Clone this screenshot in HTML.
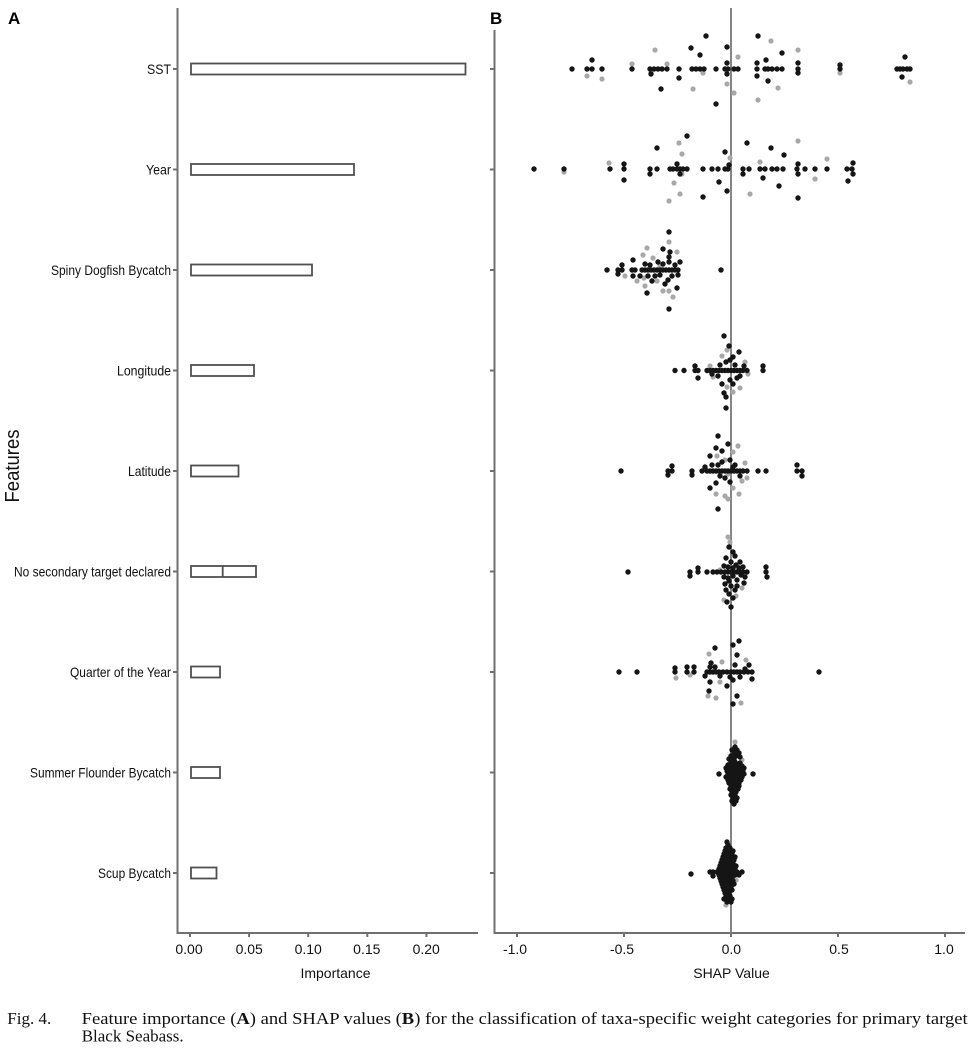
<!DOCTYPE html>
<html><head><meta charset="utf-8"><style>
html,body{margin:0;padding:0;background:#fff;}
svg{display:block;}
text{font-family:"Liberation Sans",Arial,sans-serif;}
.cap{font-family:"Liberation Serif","Times New Roman",serif;font-size:17px;fill:#111;}
.k circle{fill:#151515;}
.g circle{fill:#a8a8a8;}
</style></head><body>
<svg width="975" height="1058" viewBox="0 0 975 1058" xmlns="http://www.w3.org/2000/svg">
<rect width="975" height="1058" fill="#fff"/>
<!-- Panel labels -->
<text x="8" y="24" font-size="17" font-weight="bold" fill="#000">A</text>
<text x="490" y="24" font-size="17" font-weight="bold" fill="#000">B</text>

<!-- Panel A axes -->
<g stroke="#707070" stroke-width="2" fill="none">
<line x1="177.5" y1="8" x2="177.5" y2="934"/>
<line x1="176.5" y1="933" x2="478" y2="933"/>
<line x1="173" y1="69" x2="177" y2="69"/>
<line x1="173" y1="169.5" x2="177" y2="169.5"/>
<line x1="173" y1="270" x2="177" y2="270"/>
<line x1="173" y1="370.5" x2="177" y2="370.5"/>
<line x1="173" y1="471" x2="177" y2="471"/>
<line x1="173" y1="571.5" x2="177" y2="571.5"/>
<line x1="173" y1="672" x2="177" y2="672"/>
<line x1="173" y1="772.5" x2="177" y2="772.5"/>
<line x1="173" y1="873" x2="177" y2="873"/>
<line x1="190" y1="933" x2="190" y2="937"/>
<line x1="249.1" y1="933" x2="249.1" y2="937"/>
<line x1="308.2" y1="933" x2="308.2" y2="937"/>
<line x1="367.3" y1="933" x2="367.3" y2="937"/>
<line x1="426.4" y1="933" x2="426.4" y2="937"/>
</g>
<!-- Bars -->
<g stroke="#505050" stroke-width="1.8" fill="#fff">
<rect x="191" y="63.5" width="274.5" height="11"/>
<rect x="191" y="164" width="163" height="11"/>
<rect x="191" y="264.5" width="121" height="11"/>
<rect x="191" y="365" width="63" height="11"/>
<rect x="191" y="465.5" width="47.5" height="11"/>
<rect x="191" y="566" width="65" height="11"/>
<line x1="222.7" y1="566" x2="222.7" y2="577"/>
<rect x="191" y="666.5" width="29" height="11"/>
<rect x="191" y="767" width="29" height="11"/>
<rect x="191" y="867.5" width="25.5" height="11"/>
</g>
<!-- Y labels -->
<g font-size="14" fill="#111" text-anchor="end">
<text x="171" y="74" textLength="24" lengthAdjust="spacingAndGlyphs">SST</text>
<text x="171" y="174.5" textLength="25" lengthAdjust="spacingAndGlyphs">Year</text>
<text x="171" y="275" textLength="120" lengthAdjust="spacingAndGlyphs">Spiny Dogfish Bycatch</text>
<text x="171" y="375.5" textLength="54" lengthAdjust="spacingAndGlyphs">Longitude</text>
<text x="171" y="476" textLength="43" lengthAdjust="spacingAndGlyphs">Latitude</text>
<text x="171" y="576.5" textLength="157" lengthAdjust="spacingAndGlyphs">No secondary target declared</text>
<text x="171" y="677" textLength="101" lengthAdjust="spacingAndGlyphs">Quarter of the Year</text>
<text x="171" y="777.5" textLength="141" lengthAdjust="spacingAndGlyphs">Summer Flounder Bycatch</text>
<text x="171" y="878" textLength="73" lengthAdjust="spacingAndGlyphs">Scup Bycatch</text>
</g>
<text transform="translate(19,466) rotate(-90)" font-size="20" fill="#111" text-anchor="middle" textLength="73" lengthAdjust="spacingAndGlyphs">Features</text>
<!-- A x tick labels -->
<g font-size="14" fill="#111" text-anchor="middle">
<text x="189" y="954">0.00</text>
<text x="249.2" y="954">0.05</text>
<text x="308.2" y="954">0.10</text>
<text x="366.8" y="954">0.15</text>
<text x="426.2" y="954">0.20</text>
<text x="335.5" y="978">Importance</text>
</g>

<!-- Panel B axes -->
<g stroke="#707070" stroke-width="2" fill="none">
<line x1="494.5" y1="30" x2="494.5" y2="934"/>
<line x1="493.5" y1="933" x2="965" y2="933"/>
<line x1="490" y1="69" x2="494" y2="69"/>
<line x1="490" y1="169.5" x2="494" y2="169.5"/>
<line x1="490" y1="270" x2="494" y2="270"/>
<line x1="490" y1="370.5" x2="494" y2="370.5"/>
<line x1="490" y1="471" x2="494" y2="471"/>
<line x1="490" y1="571.5" x2="494" y2="571.5"/>
<line x1="490" y1="672" x2="494" y2="672"/>
<line x1="490" y1="772.5" x2="494" y2="772.5"/>
<line x1="490" y1="873" x2="494" y2="873"/>
<line x1="517" y1="933" x2="517" y2="937"/>
<line x1="624" y1="933" x2="624" y2="937"/>
<line x1="731" y1="933" x2="731" y2="937"/>
<line x1="838" y1="933" x2="838" y2="937"/>
<line x1="945" y1="933" x2="945" y2="937"/>
</g>
<line x1="731" y1="8" x2="731" y2="933" stroke="#858585" stroke-width="2"/>
<g font-size="14" fill="#111" text-anchor="middle">
<text x="515" y="954">-1.0</text>
<text x="622" y="954">-0.5</text>
<text x="731.3" y="954">0.0</text>
<text x="839" y="954">0.5</text>
<text x="944" y="954">1.0</text>
<text x="731.5" y="978">SHAP Value</text>
</g>

<!-- Gray dots -->
<g class="g">
<!-- SST -->
<circle cx="587" cy="76" r="2.6"/><circle cx="602" cy="79" r="2.6"/><circle cx="632" cy="64" r="2.6"/><circle cx="655" cy="50" r="2.6"/><circle cx="667" cy="64" r="2.6"/><circle cx="693" cy="89" r="2.6"/><circle cx="738" cy="57" r="2.6"/><circle cx="727" cy="84" r="2.6"/><circle cx="734" cy="93" r="2.6"/><circle cx="771" cy="41" r="2.6"/><circle cx="778" cy="88" r="2.6"/><circle cx="758" cy="100" r="2.6"/><circle cx="798" cy="50" r="2.6"/><circle cx="840" cy="73" r="2.6"/><circle cx="910" cy="82" r="2.6"/><circle cx="651" cy="73" r="2.6"/><circle cx="703" cy="73" r="2.6"/>
<!-- Year -->
<circle cx="609" cy="163" r="2.6"/><circle cx="679" cy="143" r="2.6"/><circle cx="682" cy="154" r="2.6"/><circle cx="674" cy="183" r="2.6"/><circle cx="680" cy="194" r="2.6"/><circle cx="669" cy="201" r="2.6"/><circle cx="730" cy="158" r="2.6"/><circle cx="760" cy="162" r="2.6"/><circle cx="750" cy="194" r="2.6"/><circle cx="798" cy="141" r="2.6"/><circle cx="815" cy="179" r="2.6"/><circle cx="827" cy="159" r="2.6"/><circle cx="564" cy="172" r="2.6"/><circle cx="682" cy="174" r="2.6"/>
<!-- Spiny -->
<circle cx="669" cy="242" r="2.6"/><circle cx="647" cy="248" r="2.6"/><circle cx="643" cy="255" r="2.6"/><circle cx="677" cy="252" r="2.6"/><circle cx="637" cy="281" r="2.6"/><circle cx="644" cy="278" r="2.6"/><circle cx="645" cy="286" r="2.6"/><circle cx="663" cy="291" r="2.6"/><circle cx="669" cy="291" r="2.6"/><circle cx="673" cy="297" r="2.6"/><circle cx="657" cy="281" r="2.6"/><circle cx="625" cy="276" r="2.6"/><circle cx="653" cy="258" r="2.6"/><circle cx="660" cy="266" r="2.6"/>
<!-- Longitude -->
<circle cx="727" cy="350" r="2.6"/><circle cx="745" cy="362" r="2.6"/><circle cx="713" cy="377" r="2.6"/><circle cx="727" cy="387" r="2.6"/><circle cx="740" cy="388" r="2.6"/><circle cx="733" cy="392" r="2.6"/><circle cx="710" cy="366" r="2.6"/><circle cx="748" cy="374" r="2.6"/><circle cx="722" cy="356" r="2.6"/>
<!-- Latitude -->
<circle cx="738" cy="446" r="2.6"/><circle cx="717" cy="456" r="2.6"/><circle cx="733" cy="452" r="2.6"/><circle cx="745" cy="463" r="2.6"/><circle cx="725" cy="460" r="2.6"/><circle cx="747" cy="478" r="2.6"/><circle cx="742" cy="481" r="2.6"/><circle cx="716" cy="494" r="2.6"/><circle cx="725" cy="496" r="2.6"/><circle cx="728" cy="499" r="2.6"/><circle cx="739" cy="494" r="2.6"/><circle cx="733" cy="488" r="2.6"/><circle cx="728" cy="474" r="2.6"/>
<!-- No secondary -->
<circle cx="728" cy="537" r="2.6"/><circle cx="730" cy="542" r="2.6"/><circle cx="742" cy="588" r="2.6"/><circle cx="736" cy="596" r="2.6"/><circle cx="724" cy="600" r="2.6"/><circle cx="720" cy="570" r="2.6"/>
<!-- Quarter -->
<circle cx="709" cy="654" r="2.6"/><circle cx="722" cy="662" r="2.6"/><circle cx="676" cy="678" r="2.6"/><circle cx="720" cy="682" r="2.6"/><circle cx="708" cy="696" r="2.6"/><circle cx="716" cy="698" r="2.6"/><circle cx="741" cy="703" r="2.6"/><circle cx="690" cy="675" r="2.6"/><circle cx="746" cy="660" r="2.6"/>
<!-- Summer / Scup -->
<circle cx="735" cy="742" r="2.6"/><circle cx="742" cy="760" r="2.6"/><circle cx="726" cy="905" r="2.6"/><circle cx="736" cy="880" r="2.6"/>
</g>

<!-- Black dots -->
<g class="k">
<!-- SST row -->
<circle cx="572" cy="69" r="2.7"/><circle cx="587" cy="69" r="2.7"/><circle cx="592" cy="69" r="2.7"/><circle cx="602" cy="69" r="2.7"/><circle cx="632" cy="69" r="2.7"/><circle cx="650" cy="69" r="2.7"/><circle cx="654" cy="69" r="2.7"/><circle cx="658" cy="69" r="2.7"/><circle cx="662" cy="69" r="2.7"/><circle cx="667" cy="69" r="2.7"/><circle cx="679" cy="69" r="2.7"/><circle cx="692" cy="69" r="2.7"/><circle cx="696" cy="69" r="2.7"/><circle cx="700" cy="69" r="2.7"/><circle cx="704" cy="69" r="2.7"/><circle cx="716" cy="69" r="2.7"/><circle cx="725" cy="69" r="2.7"/><circle cx="728" cy="69" r="2.7"/><circle cx="734" cy="69" r="2.7"/><circle cx="738" cy="69" r="2.7"/><circle cx="757" cy="69" r="2.7"/><circle cx="765" cy="69" r="2.7"/><circle cx="768" cy="69" r="2.7"/><circle cx="772" cy="69" r="2.7"/><circle cx="777" cy="69" r="2.7"/><circle cx="782" cy="69" r="2.7"/><circle cx="798" cy="69" r="2.7"/><circle cx="840" cy="69" r="2.7"/><circle cx="897" cy="69" r="2.7"/><circle cx="900" cy="69" r="2.7"/><circle cx="903" cy="69" r="2.7"/><circle cx="907" cy="69" r="2.7"/><circle cx="910" cy="69" r="2.7"/>
<circle cx="592" cy="60" r="2.7"/><circle cx="651" cy="74" r="2.7"/><circle cx="691" cy="48" r="2.7"/><circle cx="700" cy="55" r="2.7"/><circle cx="706" cy="36" r="2.7"/><circle cx="679" cy="78" r="2.7"/><circle cx="661" cy="89" r="2.7"/><circle cx="716" cy="104" r="2.7"/><circle cx="727" cy="47" r="2.7"/><circle cx="758" cy="36" r="2.7"/><circle cx="782" cy="53" r="2.7"/><circle cx="766" cy="60" r="2.7"/><circle cx="757" cy="76" r="2.7"/><circle cx="768" cy="81" r="2.7"/><circle cx="798" cy="63" r="2.7"/><circle cx="905" cy="57" r="2.7"/><circle cx="902" cy="77" r="2.7"/><circle cx="727" cy="63" r="2.7"/><circle cx="727" cy="74" r="2.7"/><circle cx="757" cy="63" r="2.7"/><circle cx="798" cy="73" r="2.7"/><circle cx="840" cy="65" r="2.7"/>
<!-- Year row -->
<circle cx="534" cy="169" r="2.7"/><circle cx="564" cy="169" r="2.7"/><circle cx="610" cy="169" r="2.7"/><circle cx="624" cy="169" r="2.7"/><circle cx="650" cy="169" r="2.7"/><circle cx="657" cy="169" r="2.7"/><circle cx="670" cy="169" r="2.7"/><circle cx="673" cy="169" r="2.7"/><circle cx="677" cy="169" r="2.7"/><circle cx="680" cy="169" r="2.7"/><circle cx="683" cy="169" r="2.7"/><circle cx="687" cy="169" r="2.7"/><circle cx="703" cy="169" r="2.7"/><circle cx="712" cy="169" r="2.7"/><circle cx="718" cy="169" r="2.7"/><circle cx="725" cy="169" r="2.7"/><circle cx="728" cy="169" r="2.7"/><circle cx="743" cy="169" r="2.7"/><circle cx="749" cy="169" r="2.7"/><circle cx="760" cy="169" r="2.7"/><circle cx="765" cy="169" r="2.7"/><circle cx="772" cy="169" r="2.7"/><circle cx="777" cy="169" r="2.7"/><circle cx="783" cy="169" r="2.7"/><circle cx="797" cy="169" r="2.7"/><circle cx="805" cy="169" r="2.7"/><circle cx="815" cy="169" r="2.7"/><circle cx="827" cy="169" r="2.7"/><circle cx="847" cy="169" r="2.7"/><circle cx="852" cy="169" r="2.7"/>
<circle cx="624" cy="164" r="2.7"/><circle cx="624" cy="180" r="2.7"/><circle cx="650" cy="174" r="2.7"/><circle cx="657" cy="148" r="2.7"/><circle cx="687" cy="136" r="2.7"/><circle cx="703" cy="197" r="2.7"/><circle cx="719" cy="182" r="2.7"/><circle cx="725" cy="152" r="2.7"/><circle cx="727" cy="191" r="2.7"/><circle cx="743" cy="174" r="2.7"/><circle cx="747" cy="143" r="2.7"/><circle cx="763" cy="178" r="2.7"/><circle cx="771" cy="148" r="2.7"/><circle cx="784" cy="155" r="2.7"/><circle cx="779" cy="186" r="2.7"/><circle cx="798" cy="164" r="2.7"/><circle cx="798" cy="174" r="2.7"/><circle cx="798" cy="198" r="2.7"/><circle cx="848" cy="181" r="2.7"/><circle cx="853" cy="163" r="2.7"/><circle cx="853" cy="174" r="2.7"/><circle cx="677" cy="164" r="2.7"/><circle cx="680" cy="174" r="2.7"/><circle cx="729" cy="165" r="2.7"/>
<!-- Spiny row -->
<circle cx="607" cy="270" r="2.7"/><circle cx="618" cy="270" r="2.7"/><circle cx="622" cy="270" r="2.7"/><circle cx="632" cy="270" r="2.7"/><circle cx="635" cy="270" r="2.7"/><circle cx="642" cy="270" r="2.7"/><circle cx="645" cy="270" r="2.7"/><circle cx="648" cy="270" r="2.7"/><circle cx="651" cy="270" r="2.7"/><circle cx="654" cy="270" r="2.7"/><circle cx="657" cy="270" r="2.7"/><circle cx="660" cy="270" r="2.7"/><circle cx="663" cy="270" r="2.7"/><circle cx="666" cy="270" r="2.7"/><circle cx="669" cy="270" r="2.7"/><circle cx="672" cy="270" r="2.7"/><circle cx="675" cy="270" r="2.7"/><circle cx="678" cy="270" r="2.7"/><circle cx="721" cy="270" r="2.7"/>
<circle cx="669" cy="232" r="2.7"/><circle cx="663" cy="249" r="2.7"/><circle cx="670" cy="252" r="2.7"/><circle cx="633" cy="260" r="2.7"/><circle cx="647" cy="293" r="2.7"/><circle cx="677" cy="288" r="2.7"/><circle cx="669" cy="309" r="2.7"/><circle cx="668" cy="280" r="2.7"/><circle cx="669" cy="262" r="2.7"/><circle cx="669" cy="257" r="2.7"/><circle cx="672" cy="276" r="2.7"/><circle cx="660" cy="275" r="2.7"/><circle cx="650" cy="265" r="2.7"/><circle cx="655" cy="276" r="2.7"/><circle cx="645" cy="264" r="2.7"/><circle cx="640" cy="276" r="2.7"/><circle cx="622" cy="265" r="2.7"/><circle cx="618" cy="274" r="2.7"/><circle cx="633" cy="276" r="2.7"/><circle cx="665" cy="284" r="2.7"/><circle cx="675" cy="265" r="2.7"/><circle cx="678" cy="275" r="2.7"/><circle cx="658" cy="262" r="2.7"/><circle cx="680" cy="262" r="2.7"/><circle cx="648" cy="276" r="2.7"/><circle cx="663" cy="264" r="2.7"/><circle cx="652" cy="281" r="2.7"/>
<!-- Longitude row -->
<circle cx="675" cy="370.5" r="2.7"/><circle cx="684" cy="370.5" r="2.7"/><circle cx="695" cy="370.5" r="2.7"/><circle cx="698" cy="370.5" r="2.7"/><circle cx="707" cy="370.5" r="2.7"/><circle cx="710" cy="370.5" r="2.7"/><circle cx="713" cy="370.5" r="2.7"/><circle cx="716" cy="370.5" r="2.7"/><circle cx="719" cy="370.5" r="2.7"/><circle cx="722" cy="370.5" r="2.7"/><circle cx="725" cy="370.5" r="2.7"/><circle cx="728" cy="370.5" r="2.7"/><circle cx="731" cy="370.5" r="2.7"/><circle cx="734" cy="370.5" r="2.7"/><circle cx="737" cy="370.5" r="2.7"/><circle cx="740" cy="370.5" r="2.7"/><circle cx="743" cy="370.5" r="2.7"/><circle cx="747" cy="370.5" r="2.7"/><circle cx="763" cy="370.5" r="2.7"/>
<circle cx="724" cy="336" r="2.7"/><circle cx="729" cy="346" r="2.7"/><circle cx="739" cy="352" r="2.7"/><circle cx="733" cy="357" r="2.7"/><circle cx="698" cy="378" r="2.7"/><circle cx="724" cy="393" r="2.7"/><circle cx="726" cy="397" r="2.7"/><circle cx="726" cy="408" r="2.7"/><circle cx="720" cy="365" r="2.7"/><circle cx="726" cy="362" r="2.7"/><circle cx="735" cy="365" r="2.7"/><circle cx="740" cy="376" r="2.7"/><circle cx="730" cy="380" r="2.7"/><circle cx="718" cy="376" r="2.7"/><circle cx="712" cy="374" r="2.7"/><circle cx="744" cy="366" r="2.7"/><circle cx="722" cy="384" r="2.7"/><circle cx="733" cy="384" r="2.7"/><circle cx="695" cy="366" r="2.7"/><circle cx="763" cy="366" r="2.7"/><circle cx="730" cy="360" r="2.7"/><circle cx="737" cy="378" r="2.7"/>
<!-- Latitude row -->
<circle cx="621" cy="471" r="2.7"/><circle cx="668" cy="471" r="2.7"/><circle cx="672" cy="471" r="2.7"/><circle cx="692" cy="471" r="2.7"/><circle cx="702" cy="471" r="2.7"/><circle cx="707" cy="471" r="2.7"/><circle cx="710" cy="471" r="2.7"/><circle cx="713" cy="471" r="2.7"/><circle cx="716" cy="471" r="2.7"/><circle cx="719" cy="471" r="2.7"/><circle cx="722" cy="471" r="2.7"/><circle cx="725" cy="471" r="2.7"/><circle cx="728" cy="471" r="2.7"/><circle cx="731" cy="471" r="2.7"/><circle cx="734" cy="471" r="2.7"/><circle cx="737" cy="471" r="2.7"/><circle cx="740" cy="471" r="2.7"/><circle cx="743" cy="471" r="2.7"/><circle cx="747" cy="471" r="2.7"/><circle cx="758" cy="471" r="2.7"/><circle cx="766" cy="471" r="2.7"/><circle cx="797" cy="471" r="2.7"/><circle cx="802" cy="471" r="2.7"/>
<circle cx="718" cy="436" r="2.7"/><circle cx="728" cy="444" r="2.7"/><circle cx="716" cy="448" r="2.7"/><circle cx="722" cy="451" r="2.7"/><circle cx="710" cy="456" r="2.7"/><circle cx="668" cy="475" r="2.7"/><circle cx="672" cy="466" r="2.7"/><circle cx="692" cy="475" r="2.7"/><circle cx="716" cy="483" r="2.7"/><circle cx="710" cy="488" r="2.7"/><circle cx="718" cy="509" r="2.7"/><circle cx="802" cy="476" r="2.7"/><circle cx="797" cy="465" r="2.7"/><circle cx="722" cy="462" r="2.7"/><circle cx="730" cy="460" r="2.7"/><circle cx="735" cy="465" r="2.7"/><circle cx="712" cy="465" r="2.7"/><circle cx="725" cy="478" r="2.7"/><circle cx="740" cy="476" r="2.7"/><circle cx="730" cy="482" r="2.7"/><circle cx="720" cy="476" r="2.7"/><circle cx="705" cy="467" r="2.7"/><circle cx="733" cy="467" r="2.7"/><circle cx="718" cy="465" r="2.7"/>
<!-- No secondary row -->
<circle cx="628" cy="572" r="2.7"/><circle cx="690" cy="572" r="2.7"/><circle cx="698" cy="572" r="2.7"/><circle cx="707" cy="572" r="2.7"/><circle cx="713" cy="572" r="2.7"/><circle cx="717" cy="572" r="2.7"/><circle cx="721" cy="572" r="2.7"/><circle cx="725" cy="572" r="2.7"/><circle cx="728" cy="572" r="2.7"/><circle cx="731" cy="572" r="2.7"/><circle cx="734" cy="572" r="2.7"/><circle cx="737" cy="572" r="2.7"/><circle cx="740" cy="572" r="2.7"/><circle cx="743" cy="572" r="2.7"/><circle cx="747" cy="572" r="2.7"/><circle cx="766" cy="572" r="2.7"/>
<circle cx="729" cy="547" r="2.7"/><circle cx="733" cy="552" r="2.7"/><circle cx="735" cy="556" r="2.7"/><circle cx="726" cy="558" r="2.7"/><circle cx="731" cy="562" r="2.7"/><circle cx="736" cy="565" r="2.7"/><circle cx="724" cy="566" r="2.7"/><circle cx="740" cy="562" r="2.7"/><circle cx="728" cy="578" r="2.7"/><circle cx="733" cy="576" r="2.7"/><circle cx="737" cy="580" r="2.7"/><circle cx="725" cy="584" r="2.7"/><circle cx="731" cy="586" r="2.7"/><circle cx="735" cy="590" r="2.7"/><circle cx="729" cy="594" r="2.7"/><circle cx="733" cy="598" r="2.7"/><circle cx="727" cy="602" r="2.7"/><circle cx="731" cy="607" r="2.7"/><circle cx="743" cy="567" r="2.7"/><circle cx="744" cy="583" r="2.7"/><circle cx="766" cy="567" r="2.7"/><circle cx="767" cy="577" r="2.7"/><circle cx="745" cy="577" r="2.7"/><circle cx="739" cy="568" r="2.7"/><circle cx="741" cy="575" r="2.7"/><circle cx="728" cy="567" r="2.7"/><circle cx="724" cy="577" r="2.7"/><circle cx="733" cy="568" r="2.7"/><circle cx="737" cy="586" r="2.7"/><circle cx="729" cy="581" r="2.7"/><circle cx="726" cy="590" r="2.7"/><circle cx="698" cy="568" r="2.7"/><circle cx="690" cy="576" r="2.7"/>
<!-- Quarter row -->
<circle cx="619" cy="672" r="2.7"/><circle cx="637" cy="672" r="2.7"/><circle cx="675" cy="672" r="2.7"/><circle cx="687" cy="672" r="2.7"/><circle cx="694" cy="672" r="2.7"/><circle cx="707" cy="672" r="2.7"/><circle cx="710" cy="672" r="2.7"/><circle cx="713" cy="672" r="2.7"/><circle cx="716" cy="672" r="2.7"/><circle cx="719" cy="672" r="2.7"/><circle cx="723" cy="672" r="2.7"/><circle cx="727" cy="672" r="2.7"/><circle cx="731" cy="672" r="2.7"/><circle cx="734" cy="672" r="2.7"/><circle cx="737" cy="672" r="2.7"/><circle cx="740" cy="672" r="2.7"/><circle cx="744" cy="672" r="2.7"/><circle cx="748" cy="672" r="2.7"/><circle cx="752" cy="672" r="2.7"/><circle cx="819" cy="672" r="2.7"/>
<circle cx="715" cy="648" r="2.7"/><circle cx="739" cy="641" r="2.7"/><circle cx="733" cy="645" r="2.7"/><circle cx="737" cy="655" r="2.7"/><circle cx="711" cy="663" r="2.7"/><circle cx="710" cy="682" r="2.7"/><circle cx="727" cy="686" r="2.7"/><circle cx="709" cy="691" r="2.7"/><circle cx="737" cy="696" r="2.7"/><circle cx="733" cy="704" r="2.7"/><circle cx="752" cy="679" r="2.7"/><circle cx="749" cy="665" r="2.7"/><circle cx="675" cy="668" r="2.7"/><circle cx="687" cy="667" r="2.7"/><circle cx="694" cy="667" r="2.7"/><circle cx="715" cy="667" r="2.7"/><circle cx="720" cy="676" r="2.7"/><circle cx="735" cy="665" r="2.7"/><circle cx="740" cy="677" r="2.7"/><circle cx="705" cy="676" r="2.7"/><circle cx="730" cy="677" r="2.7"/><circle cx="745" cy="669" r="2.7"/><circle cx="710" cy="667" r="2.7"/><circle cx="733" cy="680" r="2.7"/>
<!-- Summer Flounder column -->
<circle cx="735" cy="747" r="2.7"/><circle cx="732" cy="750" r="2.7"/><circle cx="737" cy="750" r="2.7"/><circle cx="734" cy="753" r="2.7"/><circle cx="739" cy="753" r="2.7"/><circle cx="731" cy="756" r="2.7"/><circle cx="736" cy="756" r="2.7"/><circle cx="740" cy="757" r="2.7"/><circle cx="729" cy="759" r="2.7"/><circle cx="734" cy="759" r="2.7"/><circle cx="731" cy="762" r="2.7"/><circle cx="735" cy="762" r="2.7"/><circle cx="740" cy="763" r="2.7"/><circle cx="728" cy="765" r="2.7"/><circle cx="733" cy="765" r="2.7"/><circle cx="737" cy="765" r="2.7"/><circle cx="742" cy="766" r="2.7"/><circle cx="726" cy="768" r="2.7"/><circle cx="730" cy="768" r="2.7"/><circle cx="735" cy="768" r="2.7"/><circle cx="739" cy="768" r="2.7"/><circle cx="744" cy="768" r="2.7"/><circle cx="727" cy="771" r="2.7"/><circle cx="731" cy="771" r="2.7"/><circle cx="735" cy="771" r="2.7"/><circle cx="739" cy="771" r="2.7"/><circle cx="743" cy="771" r="2.7"/><circle cx="719" cy="774" r="2.7"/><circle cx="728" cy="774" r="2.7"/><circle cx="732" cy="774" r="2.7"/><circle cx="736" cy="774" r="2.7"/><circle cx="740" cy="774" r="2.7"/><circle cx="744" cy="774" r="2.7"/><circle cx="753" cy="774" r="2.7"/><circle cx="726" cy="777" r="2.7"/><circle cx="730" cy="777" r="2.7"/><circle cx="734" cy="777" r="2.7"/><circle cx="738" cy="777" r="2.7"/><circle cx="742" cy="777" r="2.7"/><circle cx="728" cy="780" r="2.7"/><circle cx="733" cy="780" r="2.7"/><circle cx="737" cy="780" r="2.7"/><circle cx="741" cy="780" r="2.7"/><circle cx="729" cy="783" r="2.7"/><circle cx="734" cy="783" r="2.7"/><circle cx="739" cy="783" r="2.7"/><circle cx="731" cy="786" r="2.7"/><circle cx="735" cy="786" r="2.7"/><circle cx="739" cy="786" r="2.7"/><circle cx="730" cy="789" r="2.7"/><circle cx="734" cy="789" r="2.7"/><circle cx="738" cy="789" r="2.7"/><circle cx="732" cy="792" r="2.7"/><circle cx="736" cy="792" r="2.7"/><circle cx="731" cy="795" r="2.7"/><circle cx="735" cy="795" r="2.7"/><circle cx="733" cy="798" r="2.7"/><circle cx="737" cy="798" r="2.7"/><circle cx="732" cy="801" r="2.7"/><circle cx="736" cy="801" r="2.7"/><circle cx="734" cy="804" r="2.7"/>
<!-- Scup column -->
<circle cx="727" cy="842" r="2.7"/><circle cx="728" cy="845" r="2.7"/><circle cx="726" cy="848" r="2.7"/><circle cx="730" cy="848" r="2.7"/><circle cx="725" cy="851" r="2.7"/><circle cx="729" cy="851" r="2.7"/><circle cx="733" cy="851" r="2.7"/><circle cx="724" cy="854" r="2.7"/><circle cx="728" cy="854" r="2.7"/><circle cx="732" cy="854" r="2.7"/><circle cx="723" cy="857" r="2.7"/><circle cx="727" cy="857" r="2.7"/><circle cx="731" cy="857" r="2.7"/><circle cx="735" cy="857" r="2.7"/><circle cx="722" cy="860" r="2.7"/><circle cx="726" cy="860" r="2.7"/><circle cx="730" cy="860" r="2.7"/><circle cx="734" cy="860" r="2.7"/><circle cx="721" cy="863" r="2.7"/><circle cx="725" cy="863" r="2.7"/><circle cx="729" cy="863" r="2.7"/><circle cx="733" cy="863" r="2.7"/><circle cx="720" cy="866" r="2.7"/><circle cx="724" cy="866" r="2.7"/><circle cx="728" cy="866" r="2.7"/><circle cx="732" cy="866" r="2.7"/><circle cx="736" cy="866" r="2.7"/><circle cx="719" cy="869" r="2.7"/><circle cx="723" cy="869" r="2.7"/><circle cx="727" cy="869" r="2.7"/><circle cx="731" cy="869" r="2.7"/><circle cx="735" cy="869" r="2.7"/><circle cx="710" cy="872" r="2.7"/><circle cx="713" cy="872" r="2.7"/><circle cx="717" cy="872" r="2.7"/><circle cx="721" cy="872" r="2.7"/><circle cx="725" cy="872" r="2.7"/><circle cx="729" cy="872" r="2.7"/><circle cx="733" cy="872" r="2.7"/><circle cx="737" cy="872" r="2.7"/><circle cx="742" cy="872" r="2.7"/><circle cx="691" cy="874" r="2.7"/><circle cx="713" cy="876" r="2.7"/><circle cx="719" cy="875" r="2.7"/><circle cx="723" cy="875" r="2.7"/><circle cx="727" cy="875" r="2.7"/><circle cx="731" cy="875" r="2.7"/><circle cx="735" cy="875" r="2.7"/><circle cx="739" cy="875" r="2.7"/><circle cx="720" cy="878" r="2.7"/><circle cx="724" cy="878" r="2.7"/><circle cx="728" cy="878" r="2.7"/><circle cx="732" cy="878" r="2.7"/><circle cx="721" cy="881" r="2.7"/><circle cx="725" cy="881" r="2.7"/><circle cx="729" cy="881" r="2.7"/><circle cx="733" cy="881" r="2.7"/><circle cx="722" cy="884" r="2.7"/><circle cx="726" cy="884" r="2.7"/><circle cx="730" cy="884" r="2.7"/><circle cx="734" cy="884" r="2.7"/><circle cx="723" cy="887" r="2.7"/><circle cx="727" cy="887" r="2.7"/><circle cx="731" cy="887" r="2.7"/><circle cx="724" cy="890" r="2.7"/><circle cx="728" cy="890" r="2.7"/><circle cx="732" cy="890" r="2.7"/><circle cx="725" cy="893" r="2.7"/><circle cx="729" cy="893" r="2.7"/><circle cx="726" cy="896" r="2.7"/><circle cx="730" cy="896" r="2.7"/><circle cx="724" cy="899" r="2.7"/><circle cx="728" cy="899" r="2.7"/><circle cx="732" cy="899" r="2.7"/><circle cx="727" cy="902" r="2.7"/><circle cx="731" cy="902" r="2.7"/>
</g>

<!-- Caption -->
<text class="cap" x="7.3" y="1024">Fig. 4.</text>
<text class="cap" x="81.7" y="1024" textLength="886" lengthAdjust="spacingAndGlyphs">Feature importance (<tspan font-weight="bold">A</tspan>) and SHAP values (<tspan font-weight="bold">B</tspan>) for the classification of taxa-specific weight categories for primary target</text>
<text class="cap" x="81.7" y="1041.7">Black Seabass.</text>
</svg>
</body></html>
